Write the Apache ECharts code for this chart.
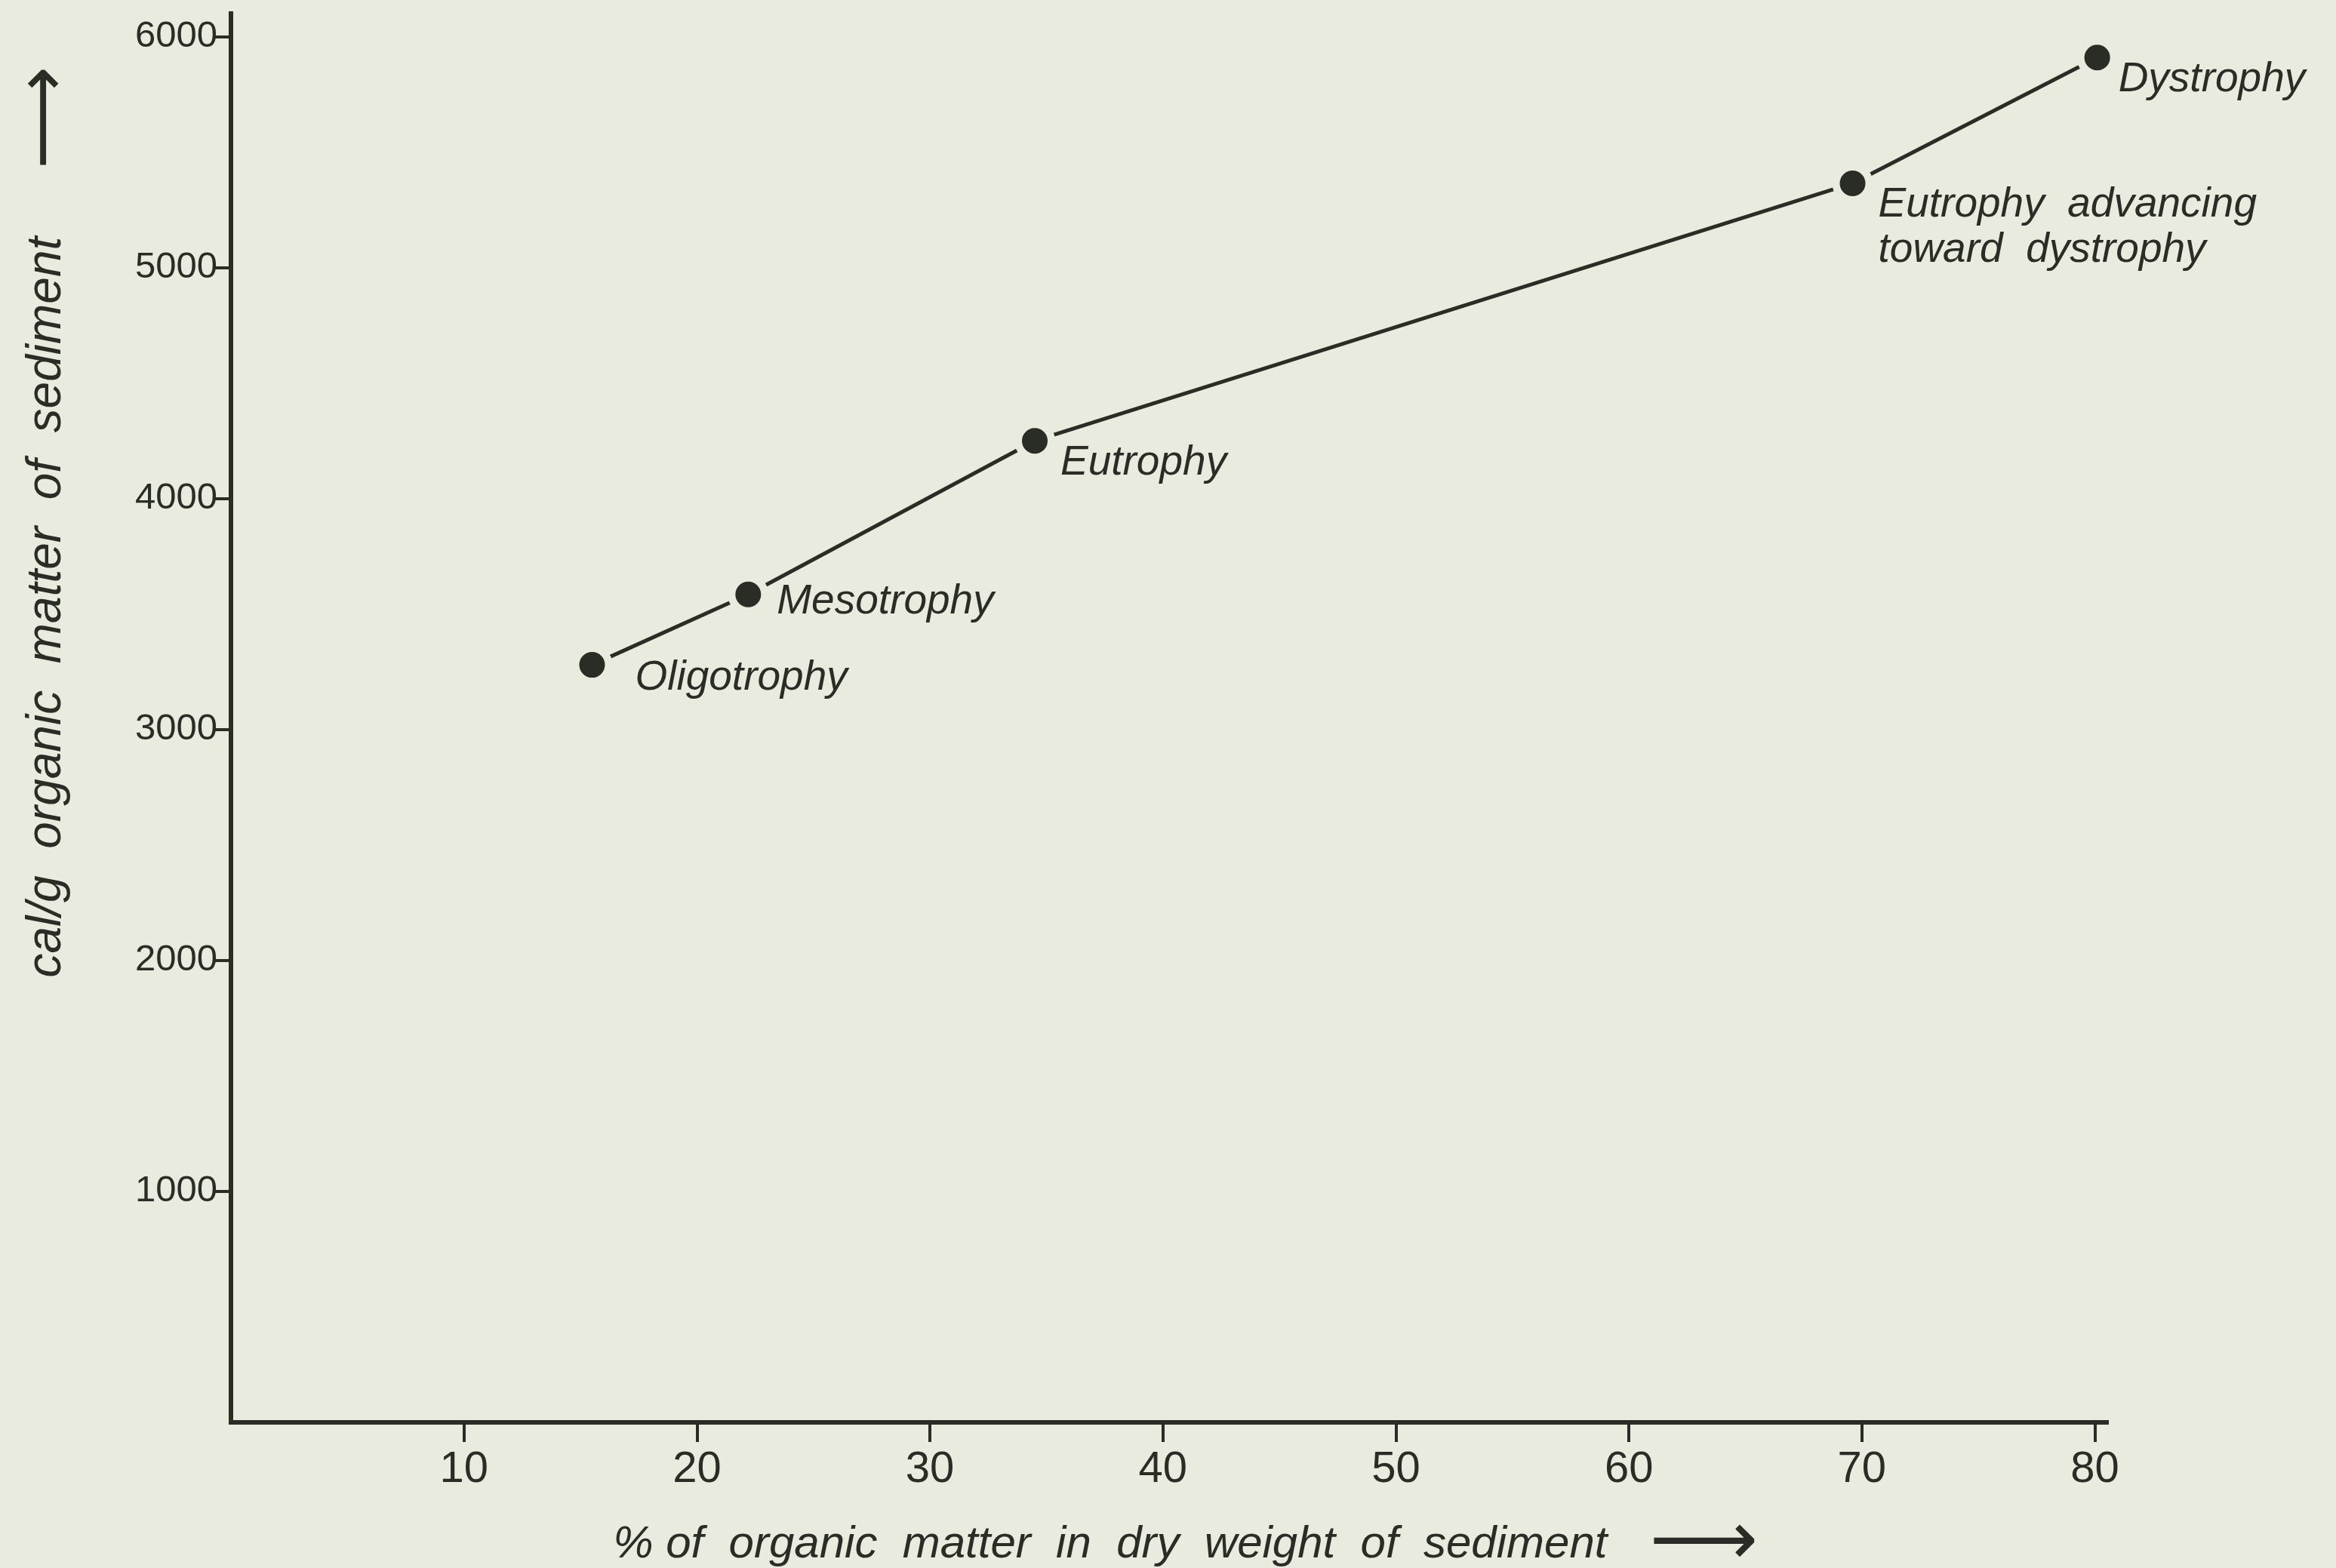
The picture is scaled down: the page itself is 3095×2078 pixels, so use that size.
<!DOCTYPE html>
<html>
<head>
<meta charset="utf-8">
<script src="https://cdn.jsdelivr.net/npm/echarts@6/dist/echarts.min.js"></script>
<style>
html, body { margin: 0; padding: 0; background: #e8ebde; overflow: hidden; }
#chart { width: 3095px; height: 2078px; }
</style>
</head>
<body>
<div id="chart"></div>
<script>
// ---- data ----
const stageNames = ['Oligotrophy', 'Mesotrophy', 'Eutrophy', 'Eutrophy  advancing\ntoward  dystrophy', 'Dystrophy'];
const organicPercent = [15.5, 22.2, 34.5, 69.6, 80.1];   // % of organic matter in dry weight of sediment
const calPerGram = [3280, 3585, 4250, 5365, 5910];       // cal/g organic matter of sediment
const xTickValues = [10, 20, 30, 40, 50, 60, 70, 80];
const yTickValues = [1000, 2000, 3000, 4000, 5000, 6000];
const xAxisTitle = '% of  organic  matter  in  dry  weight  of  sediment';
const yAxisTitle = 'cal/g  organic  matter  of  sediment';

// ---- styling ----
const INK = '#2a2d25';
const BG = '#e8ebde';
const labelOffsets = [[30, 18], [11, 10], [7, 29], [7, 59], [1, 30]];

const chart = echarts.init(document.getElementById('chart'), null, { renderer: 'canvas' });

const seriesData = organicPercent.map((x, i) => ({
  value: [x, calPerGram[i]],
  name: stageNames[i],
  label: { offset: labelOffsets[i] }
}));

chart.setOption({
  backgroundColor: BG,
  animation: false,
  grid: { left: 306, right: 304, top: 18, bottom: 193, containLabel: false, outerBoundsMode: 'none' },
  xAxis: {
    type: 'value',
    min: 0,
    max: 80.5,
    splitLine: { show: false },
    axisLine: { show: true, onZero: false, lineStyle: { color: INK, width: 6, cap: 'square' } },
    axisTick: { show: true, length: 26, lineStyle: { color: INK, width: 4 }, customValues: xTickValues },
    axisLabel: {
      customValues: xTickValues,
      margin: 34,
      color: INK,
      fontSize: 58,
      fontFamily: '"Liberation Sans Narrow", "Liberation Sans", sans-serif',
      formatter: (v) => String(v)
    },
    name: '{t|' + xAxisTitle + '}{a|⟶}',
    nameLocation: 'middle',
    nameGap: 112,
    nameTextStyle: {
      padding: [0, 0, 0, 44],
      rich: {
        t: { fontSize: 60, fontStyle: 'italic', fontFamily: '"Liberation Sans", sans-serif', color: INK, verticalAlign: 'middle' },
        a: { fontSize: 100, fontFamily: '"DejaVu Sans", sans-serif', color: INK, verticalAlign: 'middle', padding: [0, 0, 0, 56] }
      }
    }
  },
  yAxis: {
    type: 'value',
    min: 0,
    max: 6100,
    splitLine: { show: false },
    axisLine: { show: true, onZero: false, lineStyle: { color: INK, width: 6, cap: 'square' } },
    axisTick: { show: true, length: 22, lineStyle: { color: INK, width: 4 }, customValues: yTickValues },
    axisLabel: {
      customValues: yTickValues,
      margin: 18,
      color: INK,
      fontSize: 49,
      fontFamily: '"Liberation Sans", sans-serif',
      formatter: (v) => String(v)
    },
    name: '{t|' + yAxisTitle + '}{a|⟶}',
    nameLocation: 'middle',
    nameRotate: 90,
    nameGap: 196,
    nameTextStyle: {
      padding: [0, 0, 0, 520],
      rich: {
        t: { fontSize: 64, fontStyle: 'italic', fontFamily: '"Liberation Sans", sans-serif', color: INK, verticalAlign: 'middle' },
        a: { fontSize: 95, fontFamily: '"DejaVu Sans", sans-serif', color: INK, verticalAlign: 'middle', padding: [0, 0, 0, 90] }
      }
    }
  },
  series: [{
    type: 'line',
    data: seriesData,
    clip: false,
    symbol: 'circle',
    symbolSize: 44,
    itemStyle: { color: INK, borderColor: BG, borderWidth: 10 },
    lineStyle: { color: INK, width: 5 },
    emphasis: { disabled: true },
    label: {
      show: true,
      position: 'right',
      distance: 0,
      color: INK,
      fontSize: 55,
      lineHeight: 60,
      fontStyle: 'italic',
      fontFamily: '"Liberation Sans", sans-serif',
      align: 'left',
      formatter: (p) => stageNames[p.dataIndex]
    }
  }]
});
</script>
</body>
</html>
